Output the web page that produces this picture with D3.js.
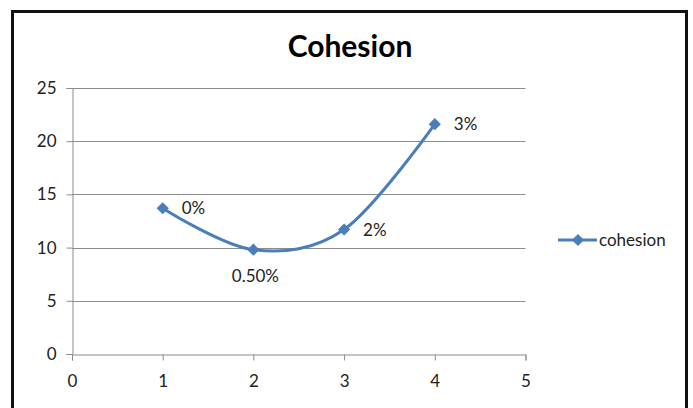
<!DOCTYPE html>
<html>
<head>
<meta charset="utf-8">
<script src="https://cdn.jsdelivr.net/npm/d3@7/dist/d3.min.js"></script>
<style>
  html, body { margin: 0; padding: 0; background: #fff; }
  svg { display: block; }
  text { font-family: Lato, "Open Sans", sans-serif; fill: #222; }
</style>
</head>
<body>
<svg id="chart" width="693" height="408"></svg>
<script>
// Cohesion readings at each step
const xValues = [1, 2, 3, 4];
const cohesion = [13.7, 9.8, 11.7, 21.6];
const pointLabels = ["0%", "0.50%", "2%", "3%"];
const xTicks = [0, 1, 2, 3, 4, 5];
const yTicks = [0, 5, 10, 15, 20, 25];
const seriesName = "cohesion";
const titleText = "Cohesion";

const svg = d3.select("#chart");
const blue = "#4A7EBB";
const gridColor = "#8c8c8c";
const labelSize = "17px";

// Outer chart frame
svg.append("rect")
  .attr("x", 12.5).attr("y", 11.5)
  .attr("width", 674).attr("height", 420)
  .attr("fill", "#fff")
  .attr("stroke", "#111").attr("stroke-width", 3);

const plot = { left: 72, right: 525.5, top: 88, bottom: 354 };

const x = d3.scaleLinear().domain([0, 5]).range([plot.left, plot.right]);
const y = d3.scaleLinear().domain([0, 25]).range([plot.bottom, plot.top]);

// Title
svg.append("text")
  .attr("x", 350).attr("y", 57)
  .attr("text-anchor", "middle")
  .style("font-weight", "bold")
  .style("font-size", "30px")
  .style("fill", "#000")
  .text(titleText);

// Horizontal gridlines
svg.append("g")
  .selectAll("line")
  .data(yTicks.filter(d => d > 0))
  .join("line")
  .attr("x1", plot.left).attr("x2", plot.right)
  .attr("y1", d => Math.round(y(d)) + 0.5).attr("y2", d => Math.round(y(d)) + 0.5)
  .attr("stroke", gridColor).attr("stroke-width", 1);

// Y axis
const yAxis = svg.append("g")
  .attr("transform", `translate(${plot.left + 0.5},0)`)
  .call(d3.axisLeft(y).tickValues(yTicks).tickSize(6).tickPadding(10).tickFormat(d3.format("d")));
// X axis
const xAxis = svg.append("g")
  .attr("transform", `translate(0,${plot.bottom + 0.5})`)
  .call(d3.axisBottom(x).tickValues(xTicks).tickSize(6).tickPadding(14).tickFormat(d3.format("d")));

[yAxis, xAxis].forEach(g => {
  g.select(".domain").attr("stroke", gridColor);
  g.selectAll(".tick line").attr("stroke", gridColor);
  g.selectAll(".tick text")
    .style("font-family", "Lato, 'Open Sans', sans-serif")
    .style("font-size", labelSize)
    .attr("fill", "#222");
});

const pts = xValues.map((d, i) => [x(d), y(cohesion[i])]);

// Smoothed series line
svg.append("path")
  .attr("d", d3.line().curve(d3.curveCardinal.tension(0))(pts))
  .attr("fill", "none")
  .attr("stroke", blue)
  .attr("stroke-width", 3)
  .attr("stroke-linecap", "round");

const diamond = d3.symbol().type(d3.symbolDiamond2).size(95);

svg.append("g")
  .selectAll("path")
  .data(pts)
  .join("path")
  .attr("transform", d => `translate(${d[0]},${d[1]})`)
  .attr("d", diamond)
  .attr("fill", blue);

// Point labels: to the right of the marker, except the dip which sits below
svg.append("g")
  .selectAll("text")
  .data(pointLabels)
  .join("text")
  .attr("x", (d, i) => i === 1 ? pts[i][0] + 2 : pts[i][0] + 19)
  .attr("y", (d, i) => i === 1 ? pts[i][1] + 32 : pts[i][1] + 6)
  .attr("text-anchor", (d, i) => i === 1 ? "middle" : "start")
  .style("font-size", labelSize)
  .text(d => d);

// Legend
const lg = svg.append("g").attr("transform", "translate(558,240)");
lg.append("line").attr("x1", 0).attr("x2", 39).attr("y1", 0).attr("y2", 0)
  .attr("stroke", blue).attr("stroke-width", 3);
lg.append("path").attr("transform", "translate(20,0)").attr("d", diamond).attr("fill", blue);
lg.append("text").attr("x", 41).attr("y", 6).style("font-size", labelSize).text(seriesName);
</script>
</body>
</html>
